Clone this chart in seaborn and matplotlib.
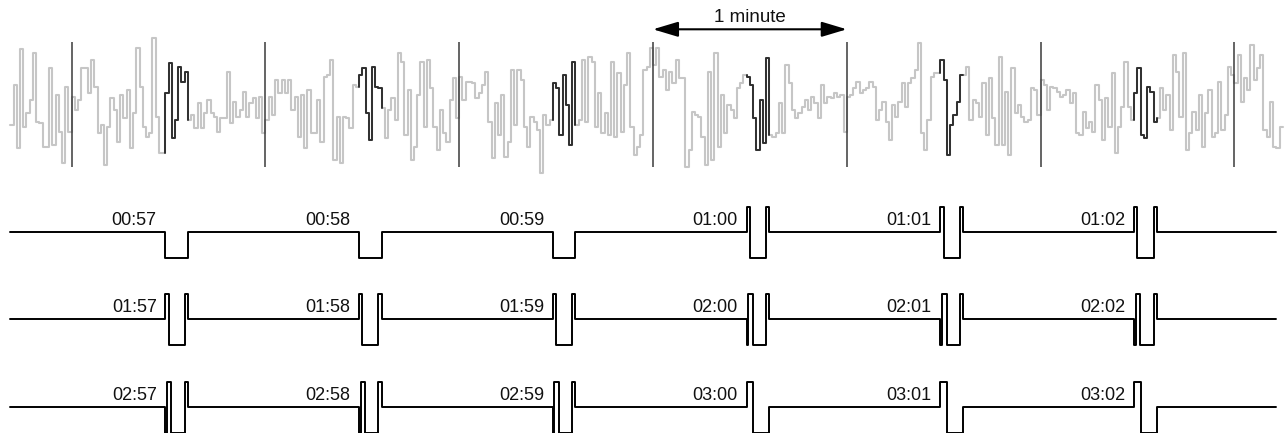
import numpy as np
import pandas as pd
import matplotlib.pyplot as plt
import seaborn as sns

# top trace, one value per second, height above the trace floor
lead_in = [50, 90, 27, 126, 48, 62, 75, 122, 53, 52, 28, 28, 107, 30, 80, 43, 12, 88, 43]
minute_0 = [78, 65, 75, 107, 107, 82, 115, 88, 42, 50, 10, 48, 77, 65, 33, 80, 57, 85, 27, 62,
            127, 88, 48, 38, 42, 137, 58, 22, 22, 82, 112, 37, 55, 108, 93, 103, 55, 60, 47, 72,
            47, 62, 75, 62, 58, 43, 57, 57, 103, 52, 73, 58, 65, 83, 58, 72, 77, 57, 78, 42]
minute_1 = [55, 78, 60, 95, 82, 95, 82, 95, 65, 78, 38, 80, 27, 85, 42, 42, 75, 33, 98, 100,
            115, 15, 58, 12, 58, 57, 47, 90, 88, 100, 107, 62, 35, 108, 88, 87, 67, 37, 65, 77,
            55, 122, 113, 40, 85, 15, 28, 80, 113, 48, 115, 87, 48, 25, 65, 42, 33, 75, 97, 57]
minute_2 = [98, 75, 93, 93, 92, 77, 82, 90, 103, 53, 17, 72, 40, 80, 18, 33, 105, 50, 105, 95,
            48, 28, 58, 53, 45, 2, 60, 50, 55, 92, 87, 40, 100, 70, 30, 113, 50, 55, 115, 53,
            118, 113, 48, 82, 42, 62, 40, 113, 38, 102, 43, 90, 122, 48, 20, 28, 40, 105, 108, 127]
minute_3 = [110, 127, 98, 105, 85, 103, 92, 115, 97, 97, 8, 25, 63, 60, 58, 38, 10, 103, 15, 122,
            28, 80, 42, 70, 65, 57, 87, 92, 100, 98, 90, 57, 25, 75, 32, 117, 40, 38, 42, 72,
            42, 110, 92, 65, 57, 62, 68, 75, 65, 78, 72, 57, 90, 72, 78, 77, 82, 78, 80, 43]
minute_4 = [78, 80, 87, 93, 82, 85, 87, 93, 88, 55, 65, 73, 53, 35, 70, 58, 73, 92, 68, 92,
            97, 105, 132, 42, 25, 55, 98, 102, 102, 115, 95, 20, 50, 60, 73, 100, 100, 108, 55, 75,
            72, 58, 92, 40, 97, 57, 30, 118, 30, 83, 20, 107, 62, 70, 58, 53, 55, 87, 85, 60]
minute_5 = [95, 90, 65, 88, 87, 83, 78, 80, 85, 72, 82, 42, 40, 63, 47, 53, 43, 90, 75, 35,
            77, 48, 102, 22, 48, 68, 113, 68, 55, 82, 107, 40, 37, 88, 83, 53, 57, 87, 65, 80,
            45, 120, 103, 58, 122, 25, 42, 63, 45, 80, 28, 62, 85, 38, 42, 93, 45, 60, 108, 100]
tail = [92, 120, 73, 97, 85, 130, 95, 107, 120, 45, 38, 73, 28, 27, 48, 48]

minute_marks = [0, 60, 120, 180, 240, 300, 360]
pulse_offset = 29   # seconds after each minute mark
pulse_len = 7

row_labels = [["00:57", "00:58", "00:59", "01:00", "01:01", "01:02"],
              ["01:57", "01:58", "01:59", "02:00", "02:01", "02:02"],
              ["02:57", "02:58", "02:59", "03:00", "03:01", "03:02"]]
row_codes = ["AAABBB", "BBBCCC", "CCCDDD"]

# pulse shapes: (level, seconds)
symbols = {
    "A": [(-1, 7)],
    "B": [(1, 1), (-1, 5), (1, 1)],
    "C": [(-1, 0.5), (1, 1.4), (-1, 4.1), (1, 1.0)],
    "D": [(1, 2), (-1, 5)],
}

sns.set_style("white")
plt.rcParams['font.family'] = ['Liberation Sans', 'DejaVu Sans']

fig = plt.figure(figsize=(12.85, 4.33), dpi=100)
ax = fig.add_axes([0, 0, 1, 1])

# top trace
trace = lead_in + minute_0 + minute_1 + minute_2 + minute_3 + minute_4 + minute_5 + tail
t0 = -len(lead_in)
secs = np.arange(t0, t0 + len(trace))
df = pd.DataFrame({"t": secs, "y": 258 + np.array(trace)})
sns.lineplot(data=df, x="t", y="y", ax=ax, color="#c6c6c6", linewidth=1.5,
             drawstyle="steps-post", estimator=None, sort=False)

# darker piece where the pulse sits
for m in minute_marks[:-1]:
    s = m + pulse_offset
    xs = [s] + list(range(s, s + pulse_len + 1))
    ys = [trace[s - 1 - t0]] + [trace[i - t0] for i in range(s, s + pulse_len + 1)]
    seg = pd.DataFrame({"t": xs, "y": 258 + np.array(ys)})
    sns.lineplot(data=seg, x="t", y="y", ax=ax, color="#2e2e2e", linewidth=1.4,
                 drawstyle="steps-post", estimator=None, sort=False)

ax.vlines(minute_marks, 266, 391, color="#3a3a3a", linewidth=1.1)

# 1 minute arrow
ax.annotate("", xy=(240, 403.7), xytext=(180, 403.7),
            arrowprops=dict(arrowstyle="<|-|>,head_length=1.1,head_width=0.33",
                            mutation_scale=14, lw=1.5, color="black",
                            shrinkA=0, shrinkB=0))
ax.text(210, 410.5, "1 minute", ha="center", va="baseline", fontsize=13.5, color="#111111")

# pulse rows
row_mid = [201, 113.7, 25.7]
amp = 25.5
for codes, labels, mid in zip(row_codes, row_labels, row_mid):
    xs, ys = [-19], [mid]
    for k, (c, lab) in enumerate(zip(codes, labels)):
        start = minute_marks[k] + pulse_offset
        x = start
        for level, dur in symbols[c]:
            xs.append(x)
            ys.append(mid + level * amp)
            x += dur
        xs.append(x)
        ys.append(mid)
        ax.text(start - 2.7, mid + 7, lab, ha="right", va="baseline", fontsize=13,
                color="#111111")
    xs.append(373)
    ys.append(mid)
    row = pd.DataFrame({"t": xs, "y": ys})
    sns.lineplot(data=row, x="t", y="y", ax=ax, color="black", linewidth=1.4,
                 drawstyle="steps-post", estimator=None, sort=False)

ax.set_xlim(-22.2, 375.7)
ax.set_ylim(0, 433)
ax.axis("off")

fig.savefig("out.png", dpi=100)
